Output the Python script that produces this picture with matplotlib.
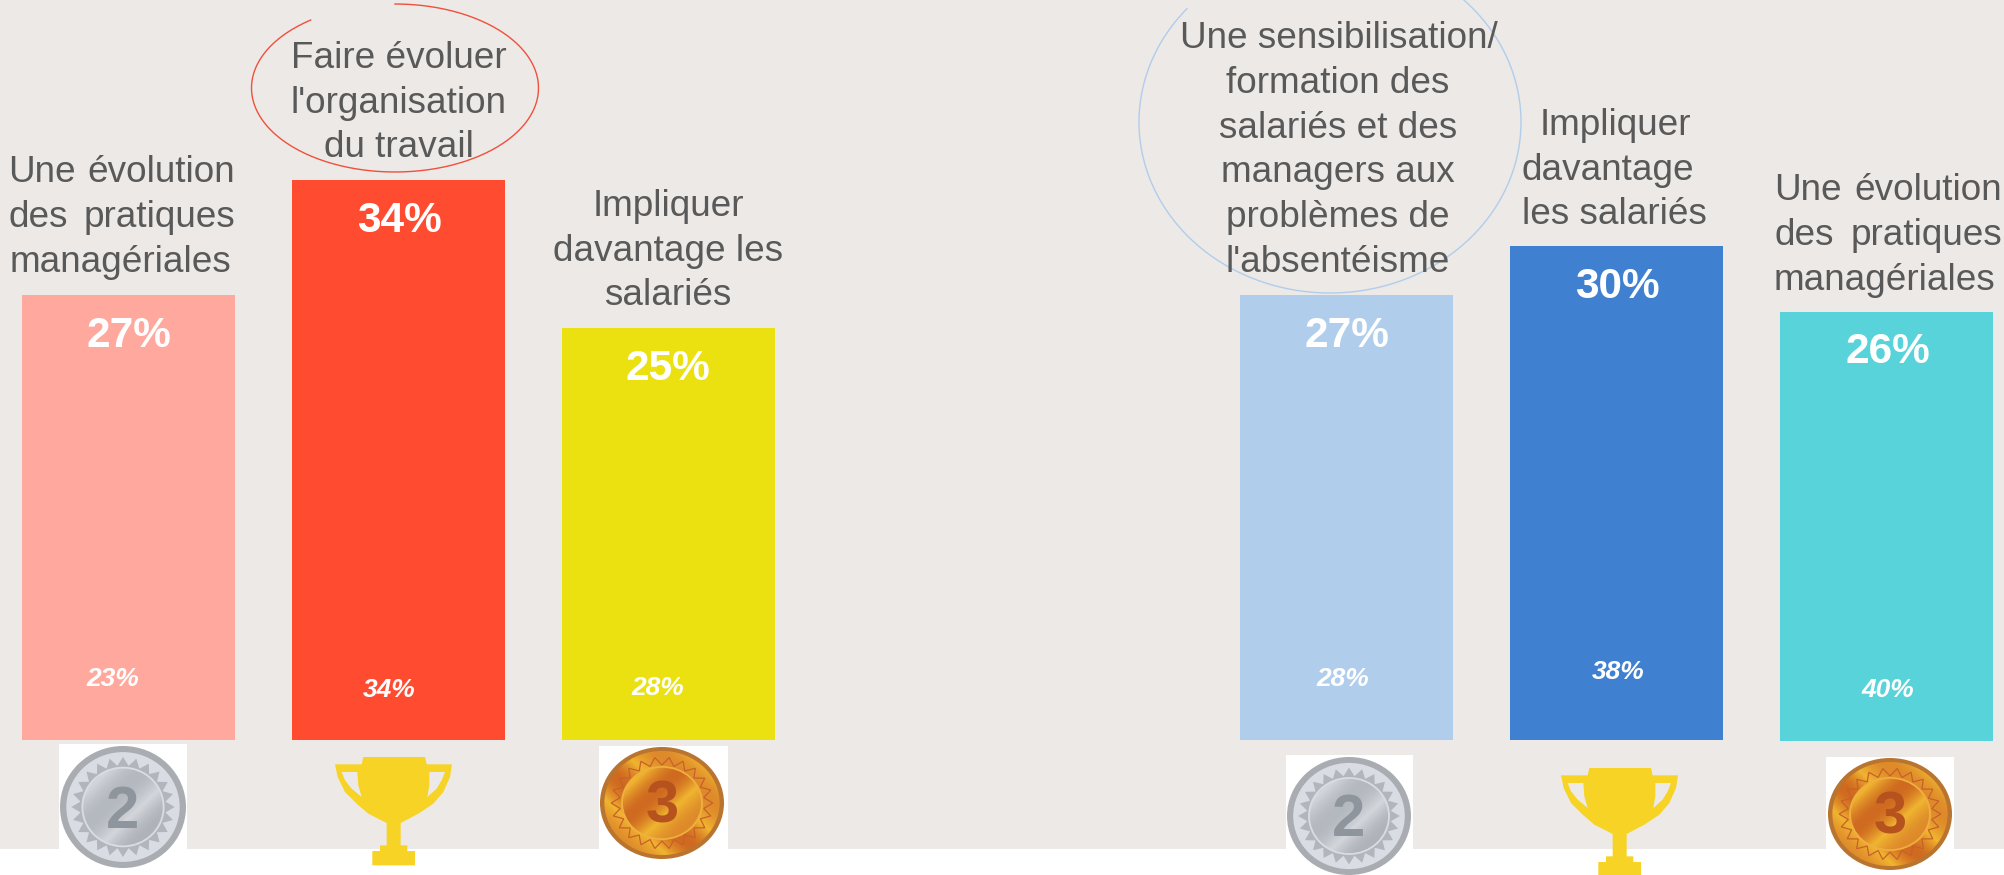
import matplotlib
matplotlib.use("Agg")
import matplotlib.pyplot as plt
import numpy as np
from matplotlib.colors import LinearSegmentedColormap
from matplotlib.patches import Ellipse, Polygon, Rectangle

plt.rcParams['font.family'] = ['Liberation Sans', 'DejaVu Sans']

# valeurs
valeurs_gauche = [27, 34, 25]
anciens_gauche = [23, 34, 28]
valeurs_droite = [27, 30, 26]
anciens_droite = [28, 38, 40]
couleurs_gauche = ['#FFA99E', '#FF4B30', '#EBE010']
couleurs_droite = ['#B1CDEC', '#4080D0', '#58D3D9']

FOND = '#ECE9E6'
GRIS = '#595959'
W, H = 2004, 875
BAS = 740            # pixel du bas des barres
PX_PCT = 16.47       # pixels pour 1 %


def py(p):
    # pixel vertical vers valeur de l'axe
    return (BAS - p) / PX_PCT


fig = plt.figure(figsize=(W / 100, H / 100), dpi=100, facecolor='white')
ax = fig.add_axes([0, 0, 1, 1])
ax.axis('off')

ax.add_patch(Rectangle((0, py(849)), W, py(0) - py(849), color=FOND, lw=0, zorder=0))

# barres
x_gauche = [22, 292, 562]
x_droite = [1240, 1510, 1780]
ax.bar(x_gauche, valeurs_gauche, width=213, align='edge', color=couleurs_gauche, zorder=1)
ax.bar(x_droite, valeurs_droite, width=213, align='edge', color=couleurs_droite, zorder=1)
# la barre cyan descend d'un pixel de plus
ax.add_patch(Rectangle((1780, py(741)), 213, py(740) - py(741), color=couleurs_droite[2], lw=0, zorder=1))

# pourcentages dans les barres
for x, v, b in zip([129, 399, 668, 1347, 1617, 1888],
                   valeurs_gauche + valeurs_droite,
                   [347, 232, 380, 347, 298, 363]):
    ax.text(x, py(b), f"{v}%", color='white', fontsize=30.5, fontweight='bold',
            ha='center', va='baseline', zorder=5)
for x, v, b in zip([113, 389, 658, 1343, 1618, 1888],
                   anciens_gauche + anciens_droite,
                   [686, 697, 695, 686, 679, 697]):
    ax.text(x, py(b), f"{v}%", color='white', fontsize=19, fontweight='bold',
            fontstyle='italic', ha='center', va='baseline', zorder=5)

# libellés : (texte, x, baseline, alignement)
lignes = [
    ("managériales", 120, 272, 'center'),
    ("Faire évoluer", 399, 68, 'center'), ("l'organisation", 399, 113, 'center'),
    ("du travail", 399, 157, 'center'),
    ("Impliquer", 668, 216, 'center'), ("davantage les", 668, 261, 'center'),
    ("salariés", 668, 305, 'center'),
    ("Une sensibilisation/", 1339, 48, 'center'), ("formation des", 1338, 93, 'center'),
    ("salariés et des", 1338, 138, 'center'), ("managers aux", 1338, 182, 'center'),
    ("problèmes de", 1338, 227, 'center'), ("l'absentéisme", 1338, 272, 'center'),
    ("Impliquer", 1615, 135, 'center'), ("davantage", 1522, 180, 'left'),
    ("les salariés", 1522, 224, 'left'),
    ("managériales", 1774, 290, 'left'),
]
for txt, x, b, al in lignes:
    ax.text(x, py(b), txt, color=GRIS, fontsize=26.6, ha=al, va='baseline', zorder=5)

# lignes justifiées dans l'original : un mot à chaque bord
justifiees = [("Une", "évolution", 8, 235, 182), ("des", "pratiques", 9, 235, 227),
              ("Une", "évolution", 1774, 2002, 200), ("des", "pratiques", 1775, 2002, 245)]
for m1, m2, x1, x2, b in justifiees:
    ax.text(x1, py(b), m1, color=GRIS, fontsize=26.6, ha='left', va='baseline', zorder=5)
    ax.text(x2, py(b), m2, color=GRIS, fontsize=26.6, ha='right', va='baseline', zorder=5)

# cercles ouverts autour du premier choix
for cx, cy, a, b, t1, t2, coul in [(395, 88, 143.5, 84, 126, 450, '#F0503C'),
                                   (1330, 122, 191, 171, 138.5, 406, '#B1CDEC')]:
    t = np.radians(np.linspace(t1, t2, 300))
    ax.plot(cx + a * np.cos(t), py(cy - b * np.sin(t)), color=coul, lw=1.0, zorder=4)


def medaille(cx, cy, rx, ry, boite, teintes, anneau, dents, chiffre, coul_chiffre, nb, plein):
    ax.add_patch(Rectangle((boite[0], py(boite[3])), boite[1] - boite[0], py(boite[2]) - py(boite[3]),
                           color='white', lw=0, zorder=2))
    cmap = LinearSegmentedColormap.from_list('m', teintes)
    u, v = np.meshgrid(np.linspace(0, 1, 120), np.linspace(0, 1, 120))
    grad = 0.5 + 0.5 * np.sin((u + v) * 5.5)

    def disque(frac, image=None, coul=None, z=3.0, bord=None):
        e = Ellipse((cx, py(cy)), 2 * rx * frac, 2 * ry * frac / PX_PCT,
                    fc=coul if coul else 'none', ec=bord if bord else 'none', lw=1, zorder=z)
        ax.add_patch(e)
        if image is not None:
            im = ax.imshow(image, cmap=cmap, vmin=0, vmax=1, aspect='auto', zorder=z,
                           extent=(cx - rx, cx + rx, py(cy + ry), py(cy - ry)))
            im.set_clip_path(e)

    disque(1.0, coul=anneau[0], z=3.0)
    if plein:
        disque(0.90, coul=anneau[1], z=3.02)
    else:
        disque(0.93, image=grad[::-1], z=3.02)
    # couronne dentelée, pleine sur l'argent, simple trait sur le bronze
    ang = np.linspace(0, 2 * np.pi, 2 * nb, endpoint=False)
    r = np.where(np.arange(ang.size) % 2 == 0, 0.82, 0.68)
    pts = np.c_[cx + rx * r * np.cos(ang), py(cy + ry * r * np.sin(ang))]
    if plein:
        ax.add_patch(Polygon(pts, closed=True, fc=dents, ec='none', zorder=3.04))
        disque(0.66, coul=anneau[1], z=3.06)
    else:
        ax.add_patch(Polygon(pts, closed=True, fc='none', ec=dents, lw=0.9, zorder=3.04))
        disque(0.66, coul='#F0B040', z=3.06)
    disque(0.63, image=grad, z=3.08)
    ax.text(cx, py(cy + 0.34 * ry), chiffre, color=coul_chiffre, fontsize=43, fontweight='bold',
            ha='center', va='baseline', zorder=3.2)


ARGENT = (['#B4B8BF', '#D3D6DB', '#AEB2B9'], ('#A9ACB1', '#D9DCE3'), '#B2B5BB', '#8F959C')
BRONZE = (['#CF6A20', '#F0B530', '#DE8A2A'], ('#B9742F', '#E58A2A'), '#C9602A', '#B5521E')

medaille(123, 807, 63, 61, (59, 187, 744, 868), ARGENT[0], ARGENT[1], ARGENT[2], '2', ARGENT[3], 24, True)
medaille(662, 803, 62, 56, (599, 728, 746, 860), BRONZE[0], BRONZE[1], BRONZE[2], '3', BRONZE[3], 22, False)
medaille(1349, 816, 62, 59, (1286, 1413, 755, 875), ARGENT[0], ARGENT[1], ARGENT[2], '2', ARGENT[3], 24, True)
medaille(1890, 814, 62, 56, (1826, 1954, 757, 870), BRONZE[0], BRONZE[1], BRONZE[2], '3', BRONZE[3], 22, False)

CONTOUR = [(965, 102), (970, 80), (1155, 80), (1160, 102), (1236, 102), (1230, 140), (1210, 185),
           (1180, 220), (1135, 250), (1082, 278), (1082, 345), (1102, 345), (1102, 362), (1125, 362),
           (1125, 405), (997, 405), (997, 362), (1020, 362), (1020, 345), (1040, 345), (1040, 278),
           (985, 250), (950, 220), (915, 185), (893, 140), (885, 102)]
TROU_G = [(905, 125), (952, 125), (955, 165), (965, 200), (935, 175), (915, 150)]
TROU_D = [(1168, 125), (1215, 125), (1205, 150), (1190, 175), (1162, 200), (1168, 165)]


def trophee(x0, y0):
    for forme, coul in [(CONTOUR, '#F6D324'), (TROU_G, FOND), (TROU_D, FOND)]:
        p = np.array(forme, dtype=float)
        xs = x0 + (p[:, 0] - 885) / 3
        ys = y0 + (p[:, 1] - 80) / 3
        ax.add_patch(Polygon(np.c_[xs, py(ys)], closed=True, fc=coul, ec='none', zorder=3))


trophee(335, 757)
trophee(1561, 768)

ax.set_xlim(0, W)
ax.set_ylim(py(H), py(0))
fig.savefig('out.png', dpi=100, facecolor='white')
